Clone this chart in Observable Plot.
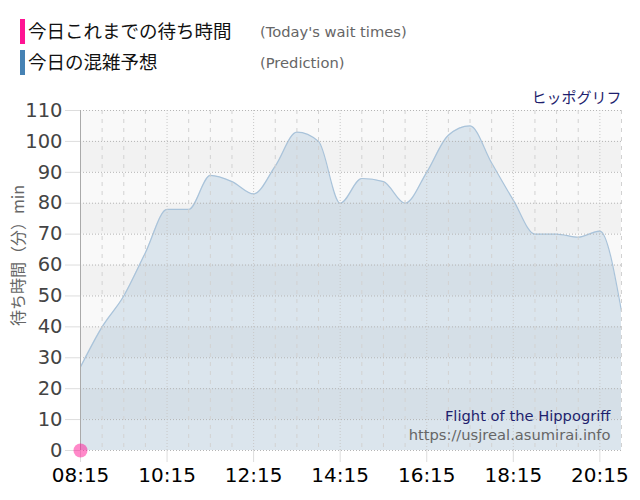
<!DOCTYPE html>
<html>
<head>
<meta charset="utf-8">
<script src="https://cdn.jsdelivr.net/npm/d3@7"></script>
<script src="https://cdn.jsdelivr.net/npm/@observablehq/plot@0.6"></script>
<style>
  html, body { margin: 0; padding: 0; background: #fff; }
  #wrap { position: relative; width: 640px; height: 500px; overflow: hidden; }
  #legend { position: relative; width: 640px; height: 80px; }
  .bar { position: absolute; left: 20px; width: 5px; height: 25px; }
  .jp { position: absolute; left: 28px; font-family: "Noto Sans CJK JP", sans-serif; font-size: 18.5px; color: #111; line-height: 25px; }
  .en { position: absolute; left: 260px; font-family: "DejaVu Sans", sans-serif; font-size: 14.7px; color: #666; line-height: 25px; }
  #chart svg { display: block; }
</style>
</head>
<body>
<div id="wrap">
  <div id="legend">
    <div class="bar" style="top:19px;background:#ff1493"></div>
    <div class="jp" style="top:18px">今日これまでの待ち時間</div>
    <div class="en" style="top:19px">(Today's wait times)</div>
    <div class="bar" style="top:50px;background:#4682b4"></div>
    <div class="jp" style="top:49px">今日の混雑予想</div>
    <div class="en" style="top:50px">(Prediction)</div>
  </div>
  <div id="chart"></div>
</div>
<script>
// ---- data ----
const times = ["08:15","08:45","09:15","09:45","10:15","10:45","11:15","11:45","12:15","12:45","13:15","13:45",
               "14:15","14:45","15:15","15:45","16:15","16:45","17:15","17:45","18:15","18:45","19:15","19:45","20:15","20:45"];
const predicted = [27, 40, 50, 64, 78, 78, 89, 87, 83, 92, 103, 100,
                   80, 88, 87, 80, 90, 102, 105, 93, 81, 70, 70, 69, 71, 45];
const todayTimes = ["08:15"];
const todayValues = [0];
const xTickLabels = ["08:15","10:15","12:15","14:15","16:15","18:15","20:15"];
const yTicks = [0,10,20,30,40,50,60,70,80,90,100,110];
const attractionJa = "ヒッポグリフ";
const attractionEn = "Flight of the Hippogriff";
const siteUrl = "https://usjreal.asumirai.info";
const yLabel = "待ち時間（分）min";

// ---- build ----
const parse = d3.utcParse("%H:%M");
const fmt = d3.utcFormat("%H:%M");
const predData = times.map((t, i) => ({t: parse(t), v: predicted[i]}));
const todayData = todayTimes.map((t, i) => ({t: parse(t), v: todayValues[i]}));
const xTicks = xTickLabels.map(parse);
const tickSet = new Set(xTickLabels);
const halfHour = times.filter(t => !tickSet.has(t)).map(parse);
const bands = yTicks.slice(0, -1).map((v, i) => ({y1: v, y2: yTicks[i + 1], i}));
const domainX = [parse(times[0]), parse(times[times.length - 1])];

const plot = Plot.plot({
  width: 640,
  height: 420,
  marginTop: 30,
  marginBottom: 50,
  marginLeft: 80,
  marginRight: 19,
  style: {fontFamily: "'DejaVu Sans', 'Noto Sans CJK JP', sans-serif", background: "transparent"},
  x: {type: "utc", domain: domainX},
  y: {domain: [0, 110]},
  marks: [
    Plot.rect(bands.filter(d => d.i % 2 === 0), {y1: "y1", y2: "y2", fill: "#f9f9f9"}),
    Plot.rect(bands.filter(d => d.i % 2 === 1), {y1: "y1", y2: "y2", fill: "#f2f2f2"}),
    Plot.areaY(predData, {x: "t", y: "v", curve: "monotone-x", fill: "#4682b4", fillOpacity: 0.17}),
    Plot.lineY(predData, {x: "t", y: "v", curve: "monotone-x", stroke: "#a9c3da", strokeWidth: 1.2}),
    Plot.gridY(yTicks, {stroke: "#b5b5b5", strokeOpacity: 1, strokeDasharray: "1,2"}),
    Plot.ruleX(halfHour, {stroke: "#d2d2d2", strokeDasharray: "4,5"}),
    Plot.ruleX(xTicks, {stroke: "#c8c8c8", strokeDasharray: "1,2"}),
    Plot.ruleX([domainX[0]], {stroke: "#aaaaaa"}),
    Plot.axisY(yTicks, {tickSize: 15, tickPadding: 3, fontSize: 19.5, fill: "#444", stroke: "#dddddd", label: null, tickFormat: d => d}),
    Plot.axisX(xTicks, {tickSize: 12, tickPadding: 5, fontSize: 20, fill: "#000", stroke: "#dddddd", label: null, tickFormat: fmt}),
    Plot.dot(todayData, {x: "t", y: "v", r: 7, fill: "#ff1493", fillOpacity: 0.5, clip: false}),
    Plot.text([attractionJa], {frameAnchor: "top-right", textAnchor: "end", lineAnchor: "bottom", dy: -8, fontSize: 15, fill: "#1f1f6e", fontFamily: "'Noto Sans CJK JP', sans-serif"}),
    Plot.text([attractionEn], {frameAnchor: "bottom-right", textAnchor: "end", lineAnchor: "bottom", dx: -11, dy: -30, fontSize: 14.7, fill: "#1f1f6e"}),
    Plot.text([siteUrl], {frameAnchor: "bottom-right", textAnchor: "end", lineAnchor: "bottom", dx: -11, dy: -11, fontSize: 14.7, fill: "#666"}),
    Plot.text([yLabel], {frameAnchor: "left", rotate: -90, textAnchor: "middle", dx: -62, dy: -25, fontSize: 16, fill: "#666", fontFamily: "'Noto Sans CJK JP', sans-serif"})
  ]
});
document.getElementById("chart").appendChild(plot);
</script>
</body>
</html>
